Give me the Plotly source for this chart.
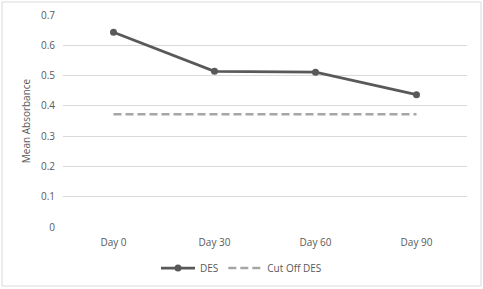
import plotly.graph_objects as go

days = ["Day 0", "Day 30", "Day 60", "Day 90"]
des_values = [0.643, 0.514, 0.511, 0.437]
cutoff_values = [0.372, 0.372, 0.372, 0.372]

W, H = 483, 289
ml, mr, mt, mb = 63, 16, 15, 62
pw, ph = W - ml - mr, H - mt - mb

fig = go.Figure()
fig.add_trace(go.Scatter(
    x=days, y=des_values, name="DES", mode="lines+markers",
    line=dict(color="#595959", width=2.75),
    marker=dict(color="#595959", size=7),
))
fig.add_trace(go.Scatter(
    x=days, y=cutoff_values, name="Cut Off DES", mode="lines",
    line=dict(color="#A6A6A6", width=2.5, dash="8px,4px"),
))

font = dict(family="Open Sans, Liberation Sans, sans-serif", size=10, color="#595959")
fig.update_layout(
    width=W, height=H,
    margin=dict(l=ml, r=mr, t=mt, b=mb, autoexpand=False),
    paper_bgcolor="white", plot_bgcolor="white",
    font=font,
    showlegend=True,
    legend=dict(orientation="h", xref="container", yref="container",
                x=0.5, xanchor="center", y=1 - 268 / H, yanchor="middle",
                font=dict(size=10, color="#595959"), itemwidth=34,
                bgcolor="rgba(0,0,0,0)"),
    xaxis=dict(type="category", range=[-0.5, 3.5], showgrid=False, showline=False,
               ticks="", tickfont=dict(size=10, color="#595959"), zeroline=False,
               automargin=False, ticklabelstandoff=8),
    yaxis=dict(range=[0, 0.7], dtick=0.1, tick0=0, showgrid=True, gridcolor="#D9D9D9",
               gridwidth=1, zeroline=False, showline=False, ticks="",
               tickfont=dict(size=10, color="#595959"), automargin=False,
               ticklabelstandoff=7,
               title=dict(text="Mean Absorbance", font=dict(size=10, color="#595959"), standoff=8)),
    shapes=[dict(type="rect", xref="paper", yref="paper",
                 x0=(2 - ml) / pw, x1=(481 - ml) / pw,
                 y0=(H - mb - 286) / ph, y1=(H - mb - 2) / ph,
                 line=dict(color="#D9D9D9", width=1), fillcolor="rgba(0,0,0,0)", layer="below")],
)
fig.write_html("out.html")
